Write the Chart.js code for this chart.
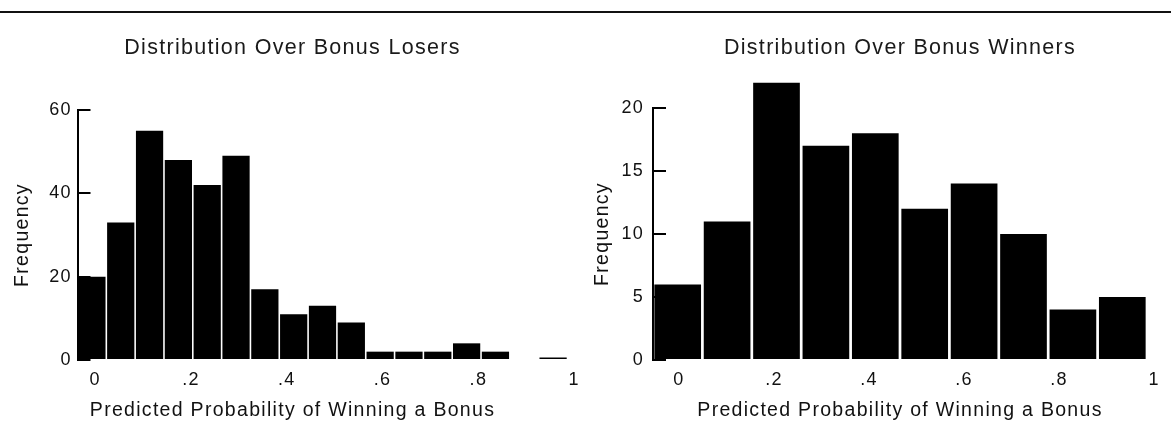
<!DOCTYPE html>
<html>
<head>
<meta charset="utf-8">
<script src="https://cdn.jsdelivr.net/npm/chart.js@4.4.0/dist/chart.umd.min.js"></script>
<style>
  html, body { margin: 0; padding: 0; background: #fff; width: 1171px; height: 439px; overflow: hidden; }
  #rule { position: absolute; left: 0; top: 11px; width: 1171px; height: 2px; background: #111; }
  #losers { position: absolute; left: 0; top: 0; }
  #winners { position: absolute; left: 585px; top: 0; }
</style>
</head>
<body>
<div id="rule"></div>
<canvas id="losers" width="585" height="439"></canvas>
<canvas id="winners" width="586" height="439"></canvas>
<script>
// bins (hidden category axis), counts per bin
const loserBins = ['.00', '.06', '.12', '.18', '.24', '.30', '.36', '.42', '.48', '.54', '.60', '.66', '.72', '.78', '.84', '.90', '.96'];
const loserCounts = [20, 33, 55, 48, 42, 49, 17, 11, 13, 9, 2, 2, 2, 4, 2, 0, 0.6];

const winnerBins = ['.00', '.10', '.21', '.31', '.41', '.52', '.62', '.72', '.83', '.93'];
const winnerCounts = [6, 11, 22, 17, 18, 12, 14, 10, 4, 5];

const probTicks = [0, 0.2, 0.4, 0.6, 0.8, 1];
const loserFreqTicks = [0, 20, 40, 60];
const winnerFreqTicks = [0, 5, 10, 15, 20];

Chart.defaults.font.family = "'Liberation Sans', Arial, sans-serif";
Chart.defaults.color = '#111';

// the scanned type is spaced out a little
const spacing = {
    id: 'spacing',
    beforeDraw(chart) { chart.ctx.letterSpacing = '1.3px'; }
};

function probLabel(v) {
    if (v === 0) return '0';
    if (v === 1) return '1';
    return v.toFixed(1).replace(/^0/, '');
}

function histogram(id, o) {
    var ctx = document.getElementById(id).getContext('2d');
    return new Chart(ctx, {
        type: 'bar',
        data: {
            labels: o.bins,
            datasets: [{
                data: o.counts,
                backgroundColor: '#000',
                borderWidth: 0,
                barPercentage: 0.945,
                categoryPercentage: 1,
                clip: false,
                xAxisID: 'x',
                yAxisID: 'y'
            }]
        },
        plugins: [spacing],
        options: {
            responsive: false,
            animation: false,
            devicePixelRatio: 1,
            layout: { padding: o.padding },
            plugins: {
                legend: { display: false },
                tooltip: { enabled: false },
                title: {
                    display: true,
                    text: o.title,
                    fullSize: o.fullSize,
                    color: '#1a1a1a',
                    font: { size: 21.5, weight: 'normal' },
                    padding: { top: 35.1, bottom: o.titleGap }
                },
                subtitle: {
                    display: true,
                    position: 'bottom',
                    text: 'Predicted Probability of Winning a Bonus',
                    fullSize: o.fullSize,
                    color: '#111',
                    font: { size: 19.5 },
                    padding: { top: 4, bottom: 0 }
                }
            },
            scales: {
                x: { display: false },
                xv: {
                    type: 'linear',
                    position: 'bottom',
                    offset: false,
                    min: o.probMin,
                    max: o.probMax,
                    grid: { display: false, drawTicks: false, offset: false },
                    border: { display: false },
                    afterBuildTicks: s => { s.ticks = probTicks.map(v => ({ value: v })); },
                    afterFit: s => {
                        s.height = 35;
                        s.paddingLeft = 0;
                        s.paddingRight = 0;
                    },
                    ticks: {
                        padding: 9.2,
                        color: '#111',
                        font: { size: 18 },
                        maxRotation: 0,
                        autoSkip: false,
                        callback: v => probLabel(v)
                    }
                },
                y: {
                    min: 0,
                    max: o.freqTicks[o.freqTicks.length - 1],
                    afterBuildTicks: s => { s.ticks = o.freqTicks.map(v => ({ value: v })); },
                    afterFit: s => { s.width = o.yWidth; },
                    grid: {
                        drawOnChartArea: false,
                        drawTicks: true,
                        tickLength: -13,
                        color: '#000',
                        lineWidth: 2
                    },
                    border: { display: true, color: '#000', width: 2 },
                    title: {
                        display: true,
                        text: 'Frequency',
                        color: '#111',
                        font: { size: 19.5 },
                        padding: { top: o.yTitlePad, bottom: 0 }
                    },
                    ticks: {
                        padding: o.yLabelPad,
                        color: '#111',
                        font: { size: 18 }
                    }
                }
            }
        }
    });
}

// chart losers
histogram('losers', {
    bins: loserBins,
    counts: loserCounts,
    freqTicks: loserFreqTicks,
    title: 'Distribution Over Bonus Losers',
    fullSize: true,
    probMin: -0.037,
    probMax: 0.986,
    padding: { left: 17.5, right: 17.5, top: 0, bottom: 16.6 },
    titleGap: 49.1,
    yWidth: 60,
    yTitlePad: -6.7,
    yLabelPad: 18.6
});

// chart winners
histogram('winners', {
    bins: winnerBins,
    counts: winnerCounts,
    freqTicks: winnerFreqTicks,
    title: 'Distribution Over Bonus Winners',
    fullSize: false,
    probMin: -0.0547,
    probMax: 0.985,
    padding: { left: 0, right: 24, top: 0, bottom: 16.6 },
    titleGap: 47.1,
    yWidth: 68,
    yTitlePad: 5.8,
    yLabelPad: 22
});
</script>
</body>
</html>
